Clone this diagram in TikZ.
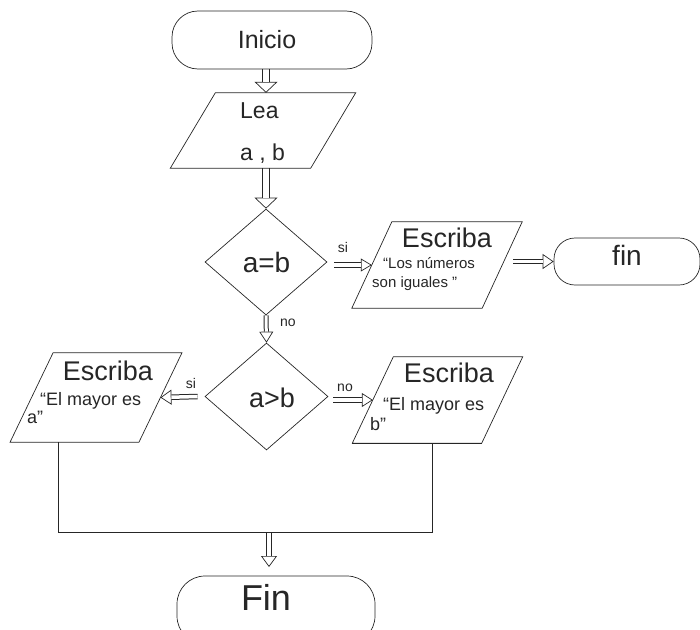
\documentclass[tikz,border=0pt]{standalone}
\usepackage{fontspec}
\setmainfont{Liberation Sans}
\usetikzlibrary{shapes.geometric,arrows.meta}
\pgfdeclarelayer{background}
\pgfsetlayers{background,main}
\definecolor{ink}{HTML}{262626}
\tikzset{
  outline/.style={draw=ink, line width=0.7pt, inner sep=0pt},
  term/.style={outline, rectangle, rounded corners=#1},
  term/.default=22pt,
  decision/.style={outline, diamond},
  parabody/.style={rectangle, inner sep=0pt},
  txt/.style={text=ink, inner sep=0pt},
  fbig/.style={font=\fontsize{27}{32}\selectfont},
  fmid/.style={font=\fontsize{18}{22}\selectfont},
  fsmall/.style={font=\fontsize{15}{18}\selectfont},
  flab/.style={font=\fontsize{14}{17}\selectfont},
  flow/.style={ink, line width=0.7pt},
  shaft/.style={ink, line width=1pt, double=white},
}
% parallelogram outline round a named body node: #2 node, #3 half slant
\newcommand\paraoutline[3][]{%
  \draw[outline,#1] ([xshift=-#3]#2.south west) -- ([xshift=#3]#2.north west)
    -- ([xshift=#3]#2.north east) -- ([xshift=-#3]#2.south east) -- cycle;}
\newcommand\blockarrow[4]{%
  \draw[flow, -{Triangle[open,length=11pt,width=#3]}] #1 -- #2;
  \draw[shaft, double distance=#4, shorten >=11pt] #1 -- #2;}
\begin{document}
\begin{tikzpicture}[x=1pt,y=-1pt]
\useasboundingbox (0,0) rectangle (700,629);
% terminators
\node[term=26pt, minimum width=200pt, minimum height=58pt] (ini) at (272,40) {};
\node[term=21pt, minimum width=146pt, minimum height=47pt] (fin) at (627,261.5) {};
\node[term=28pt, minimum width=198pt, minimum height=68pt] (finb) at (276,610) {};
% input/output
\node[parabody, minimum width=140pt, minimum height=75pt] (lea) at (263,130.5) {};
\paraoutline{lea}{22.5pt}
\node[parabody, minimum width=130pt, minimum height=86pt] (esc1) at (437,265) {};
\paraoutline{esc1}{20pt}
\node[parabody, minimum width=128.5pt, minimum height=89pt] (lesc) at (96,397.5) {};
\paraoutline{lesc}{21.5pt}
\node[parabody, minimum width=129pt, minimum height=86pt] (resc) at (437.5,400) {};
\paraoutline{resc}{20.5pt}
\draw[ink, line width=1.4pt] ([xshift=-20.5pt]resc.south west) -- ([xshift=-20.5pt]resc.south east);
% decisions
\node[decision, minimum width=122pt, minimum height=106pt] (ab) at (266,262) {};
\node[decision, minimum width=123pt, minimum height=107pt] (agt) at (266.5,396.5) {};
% texts
\node[txt, anchor=base, font=\fontsize{25}{30}\selectfont] (tini) at (267,48) {Inicio};
\node[txt, anchor=base west, font=\fontsize{23}{28}\selectfont] (tlea) at (240,118) {Lea};
\node[txt, anchor=base west, font=\fontsize{23}{28}\selectfont] (tab1) at (240,160) {a , b};
\node[txt, anchor=base, font=\fontsize{28}{32}\selectfont] (tab) at (266.5,272) {a=b};
\node[txt, anchor=base, flab] (tsi1) at (343,252) {si};
\node[txt, anchor=base, fbig] (tesc1) at (447,247) {Escriba};
\node[txt, anchor=base west, fsmall] (tlos) at (383,268) {“Los números};
\node[txt, anchor=base west, fsmall] (tson) at (372,287) {son iguales ”};
\node[txt, anchor=base, font=\fontsize{28}{32}\selectfont] (tfin) at (627,265) {fin};
\node[txt, anchor=base west, flab] (tno1) at (280,326) {no};
\node[txt, anchor=base, font=\fontsize{27}{32}\selectfont] (tagt) at (272,407) {a>b};
\node[txt, anchor=base, flab] (tsi2) at (191,388) {si};
\node[txt, anchor=base, flab] (tno2) at (345,391) {no};
\node[txt, anchor=base, fbig] (tesc2) at (108,380) {Escriba};
\node[txt, anchor=base west, fmid] (tmay1) at (40,405) {“El mayor es};
\node[txt, anchor=base west, fmid] (ta) at (27,423) {a”};
\node[txt, anchor=base, fbig] (tesc3) at (449,382) {Escriba};
\node[txt, anchor=base west, fmid] (tmay2) at (383,410) {“El mayor es};
\node[txt, anchor=base west, fmid] (tb) at (370,430) {b”};
\node[txt, anchor=base, font=\fontsize{36}{42}\selectfont] (tfinb) at (266,610) {Fin};
% junction coordinates
\coordinate (jl) at (58,532);
\coordinate (jr) at (432,532);
\coordinate (jn) at (269,532);
\coordinate (jend) at (269,567);
% connectors
\begin{pgfonlayer}{background}
\blockarrow{(ini.south -| ab.north)}{(lea.north -| ab.north)}{23pt}{6.5pt}
\blockarrow{(lea.south -| ab.north)}{(ab.north)}{23pt}{6.5pt}
\blockarrow{([xshift=7pt]ab.east |- esc1.west)}{(esc1.west)}{13pt}{3.5pt}
\blockarrow{([xshift=11pt]esc1.east |- fin.west)}{(fin.west)}{15pt}{3.5pt}
\blockarrow{(ab.south)}{(agt.north)}{14pt}{3pt}
\blockarrow{([xshift=-7pt]agt.west)}{(lesc.east)}{15pt}{3.5pt}
\blockarrow{([xshift=5pt]agt.east |- resc.west)}{(resc.west)}{14pt}{3.5pt}
\blockarrow{(jn)}{(jend)}{16pt}{4.5pt}
\draw[flow] (lesc.south -| jl) -- (jl) -- (jr) -- (resc.south -| jr);
\end{pgfonlayer}
\end{tikzpicture}
\end{document}
